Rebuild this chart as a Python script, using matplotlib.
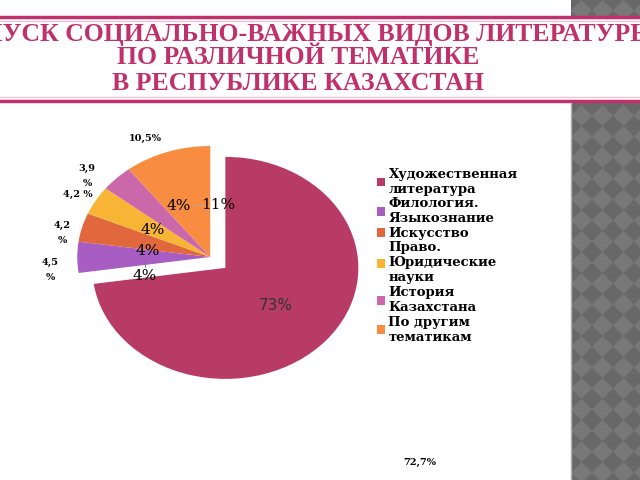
import matplotlib.pyplot as plt
from matplotlib.patches import Rectangle, Polygon
from matplotlib.lines import Line2D

# Data
categories = ['Художественная\nлитература', 'Филология.\nЯзыкознание', 'Искусство',
              'Право.\nЮридические\nнауки', 'История\nКазахстана', 'По другим\nтематикам']
shares = [72.7, 4.5, 4.2, 4.2, 3.9, 10.5]
colors = ['#B83B66', '#A85DC2', '#E0683C', '#F8B434', '#CB68AA', '#F88C40']
value_notes = ['72,7%', '4,5\n%', '4,2\n%', '4,2 %', '3,9\n%', '10,5%']

title_lines = ['ВЫПУСК СОЦИАЛЬНО-ВАЖНЫХ ВИДОВ ЛИТЕРАТУРЫ',
               'ПО РАЗЛИЧНОЙ ТЕМАТИКЕ',
               'В РЕСПУБЛИКЕ КАЗАХСТАН']

W, H = 640, 480
fig = plt.figure(figsize=(6.4, 4.8), dpi=100)


def px(x, y):
    return x / W, 1 - y / H


pink = '#C0306A'

# slide decoration: diamond-patterned strip on the right
deco = fig.add_axes([571 / W, 0, 69 / W, 1], zorder=0)
deco.set_xlim(0, 69)
deco.set_ylim(480, 0)
deco.axis('off')
deco.add_patch(Rectangle((0, 0), 69, 480, facecolor='#686868', linewidth=0))
step = 21
for i in range(-1, 5):
    for j in range(-1, 25):
        cx, cy = i * step + step / 2, j * step + step / 2
        h = step / 2
        deco.add_patch(Polygon([(cx - h, cy), (cx, cy - h), (cx + h, cy), (cx, cy + h)],
                               facecolor='#787878', linewidth=0))

fig.patches.append(Rectangle(px(0, 101), 1, 84 / H, transform=fig.transFigure,
                             facecolor='white', linewidth=0, zorder=2))
for y, c, w in [(17, pink, 2.5), (21, '#F2C4D4', 1), (97, '#F2C4D4', 1), (101, pink, 2.5)]:
    fig.lines.append(Line2D([0, 1], [1 - y / H] * 2, transform=fig.transFigure,
                            color=c, lw=w, zorder=5))
fig.lines.append(Line2D([571 / W] * 2, [0, 1 - 103 / H], transform=fig.transFigure,
                        color='#B0B0B0', lw=1, zorder=5))

for s, (x, y) in zip(title_lines, [(298, 41), (298, 64.5), (298, 90)]):
    fig.text(*px(x, y), s, ha='center', va='baseline', fontsize=18.5,
             fontweight='bold', family='Liberation Serif', color=pink, zorder=6)

# pie: centre at (210, 257) px, radii 133 x 111 px
ax = fig.add_axes([44 / W, 84.25 / H, 332.5 / W, 277.5 / H], zorder=3)
explode = [0.15, 0, 0, 0, 0, 0]
wedges, texts, autotexts = ax.pie(shares, colors=colors, startangle=90, counterclock=False,
                                  explode=explode, autopct='%1.0f%%',
                                  wedgeprops=dict(linewidth=0),
                                  textprops=dict(family='DejaVu Serif', fontsize=11))
ax.set_aspect('auto')
ax.set_xlim(-1.25, 1.25)
ax.set_ylim(-1.25, 1.25)

label_pos = [(0.49, -0.44), (-0.49, -0.17), (-0.47, 0.05), (-0.43, 0.24),
             (-0.24, 0.46), (0.06, 0.47)]
for t, p in zip(autotexts, label_pos):
    t.set_position(p)
autotexts[0].set_family('DejaVu Sans')
autotexts[0].set_color('#333333')
ax.plot([-0.49, -0.49], [-0.02, -0.09], color='#8a5a9a', lw=0.6)
ax.plot([-0.12, -0.05], [0.47, 0.47], color='#b0b0b0', lw=0.6)

# separate value notes on the slide
note_pos = [(420, 462), (50, 270), (62, 233), (78, 194), (87, 176), (145, 138)]
for s, (x, y) in zip(value_notes, note_pos):
    fig.text(*px(x, y), s, ha='center', va='center', fontsize=7, fontweight='bold',
             family='DejaVu Serif', linespacing=1.9)

ax.legend(wedges, categories, loc='upper left', bbox_to_anchor=(370 / W, 1 - 161 / H),
          bbox_transform=fig.transFigure, frameon=False, handlelength=0.65,
          handleheight=0.65, handletextpad=0.25, labelspacing=0.12, borderpad=0,
          prop=dict(family='DejaVu Serif', weight='bold', size=9.5))

fig.savefig('out.png', dpi=100)
